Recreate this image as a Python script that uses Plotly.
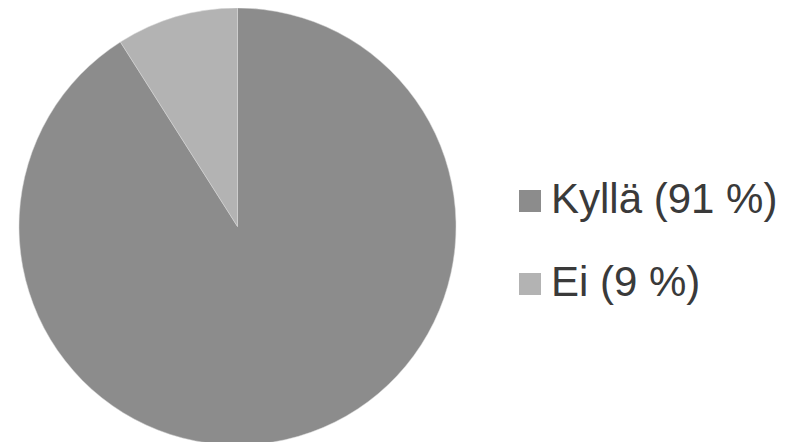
import plotly.graph_objects as go

labels = ["Kyllä", "Ei"]
values = [91, 9]
colors = ["#8c8c8c", "#b3b3b3"]

W, H = 796, 442
OFF = 8  # page body margin in the browser


def px_x(x):
    return (x - OFF) / W


def px_y(y):
    return 1 - (y - OFF) / H


fig = go.Figure()
fig.add_trace(go.Pie(
    labels=labels,
    values=values,
    sort=False,
    direction="clockwise",
    rotation=0,
    textinfo="none",
    hoverinfo="label+percent",
    marker=dict(colors=colors, line=dict(color="#d9d9d9", width=0.5)),
    domain=dict(x=[px_x(19), px_x(456)], y=[px_y(445), 1.0]),
    showlegend=False,
))

# custom legend (large squares + labels), built from the data lists
sq_x0, sq_x1 = 519, 541
row_centers = [201, 284]
shapes = []
annotations = []
for lab, val, col, yc in zip(labels, values, colors, row_centers):
    shapes.append(dict(
        type="rect", xref="paper", yref="paper",
        x0=px_x(sq_x0), x1=px_x(sq_x1),
        y0=px_y(yc + 11), y1=px_y(yc - 11),
        fillcolor=col, line=dict(width=0),
    ))
    annotations.append(dict(
        xref="paper", yref="paper",
        x=px_x(549), y=px_y(yc - 3),
        xanchor="left", yanchor="middle",
        text=f"{lab} ({val} %)",
        showarrow=False,
        font=dict(family="Liberation Sans, Arial, sans-serif", size=42, color="#3a3a3a"),
    ))

fig.update_layout(
    width=W, height=H,
    margin=dict(l=0, r=0, t=0, b=0),
    paper_bgcolor="white",
    plot_bgcolor="white",
    shapes=shapes,
    annotations=annotations,
)

fig.write_html("out.html")
